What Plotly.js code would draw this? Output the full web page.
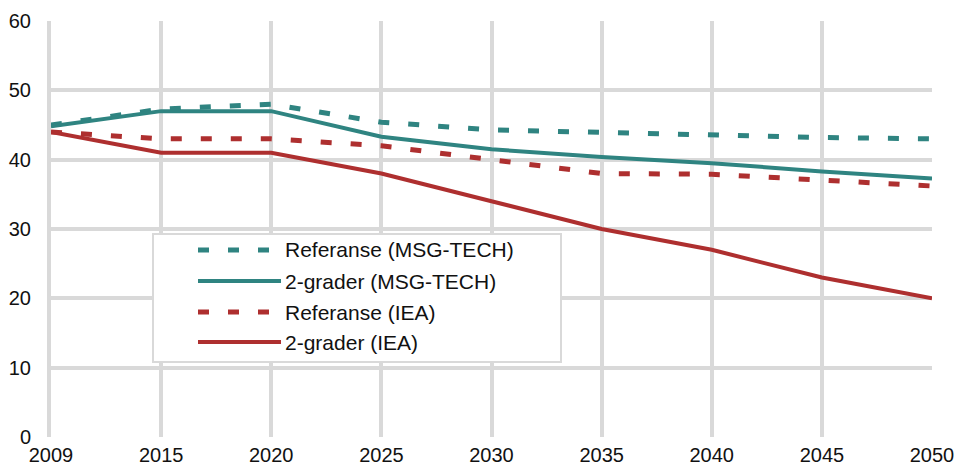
<!DOCTYPE html>
<html>
<head>
<meta charset="utf-8">
<script src="https://cdn.plot.ly/plotly-3.0.1.min.js"></script>
<style>html,body{margin:0;padding:0;background:#fff;}#chart{width:957px;height:468px;}</style>
</head>
<body>
<div id="chart"></div>
<script>
const years = ["2009","2015","2020","2025","2030","2035","2040","2045","2050"];
const seriesNames = ["Referanse (MSG-TECH)", "2-grader (MSG-TECH)", "Referanse (IEA)", "2-grader (IEA)"];
const refMsgTech = [45, 47.3, 48, 45.4, 44.3, 43.9, 43.6, 43.2, 43.0];
const twoMsgTech = [44.8, 47, 47, 43.3, 41.5, 40.4, 39.5, 38.3, 37.3];
const refIea = [44, 43, 43, 42, 40, 38, 37.9, 37, 36.2];
const twoIea = [44, 41, 41, 38, 34, 30, 27, 23, 20];
const yTicks = [0, 10, 20, 30, 40, 50, 60];

const teal = "#2f8481";
const red = "#ae2f2f";
const styles = [
  {color: teal, dash: "11px,19px", width: 5},
  {color: teal, dash: "solid", width: 4},
  {color: red, dash: "11px,19px", width: 5},
  {color: red, dash: "solid", width: 4}
];
const values = [refMsgTech, twoMsgTech, refIea, twoIea];

const traces = values.map((v, i) => ({
  type: "scatter", mode: "lines", x: years, y: v, name: seriesNames[i],
  line: {color: styles[i].color, dash: styles[i].dash, width: styles[i].width},
  showlegend: false, hoverinfo: "x+y"
}));

// custom legend (styling only, in paper coordinates)
const L = 51, R = 932, T = 21, B = 437;
const px = x => (x - L) / (R - L);
const py = y => (B - y) / (B - T);
const shapes = [{
  type: "rect", xref: "paper", yref: "paper",
  x0: px(153), x1: px(561), y0: py(362), y1: py(234),
  line: {color: "#d9d9d9", width: 2}, fillcolor: "#ffffff", layer: "above"
}];
const annotations = [];
const rowY = [250, 281, 312, 342];
seriesNames.forEach((n, i) => {
  shapes.push({
    type: "line", xref: "paper", yref: "paper",
    x0: px(198), x1: px(281), y0: py(rowY[i]), y1: py(rowY[i]),
    line: {color: styles[i].color, dash: styles[i].dash, width: styles[i].width},
    layer: "above"
  });
  annotations.push({
    xref: "paper", yref: "paper", x: px(283), y: py(rowY[i]),
    xanchor: "left", yanchor: "middle", showarrow: false, text: n,
    font: {family: "Arial, 'Liberation Sans', sans-serif", size: 21, color: "#111"}
  });
});

const layout = {
  width: 957, height: 468,
  margin: {l: L, r: 957 - R, t: T, b: 468 - B},
  paper_bgcolor: "#fff", plot_bgcolor: "#fff",
  font: {family: "Arial, 'Liberation Sans', sans-serif", size: 20, color: "#111"},
  xaxis: {
    type: "category", range: [0, years.length - 1],
    showgrid: true, gridcolor: "#d9d9d9", gridwidth: 4,
    showline: false, zeroline: false, ticks: "", ticklen: 0,
    ticklabelstandoff: 4,
    tickfont: {size: 20, color: "#111"}, fixedrange: true
  },
  yaxis: {
    range: [0, 60], tickvals: yTicks, ticktext: yTicks.map(String),
    showgrid: true, gridcolor: "#d9d9d9", gridwidth: 4,
    showline: true, linecolor: "#d9d9d9", linewidth: 4,
    zeroline: false, ticks: "", ticklen: 0,
    ticklabelstandoff: 12,
    tickfont: {size: 20, color: "#111"}, fixedrange: true
  },
  shapes: shapes,
  annotations: annotations,
  showlegend: false
};

Plotly.newPlot("chart", traces, layout, {displayModeBar: false, staticPlot: true});
</script>
</body>
</html>
